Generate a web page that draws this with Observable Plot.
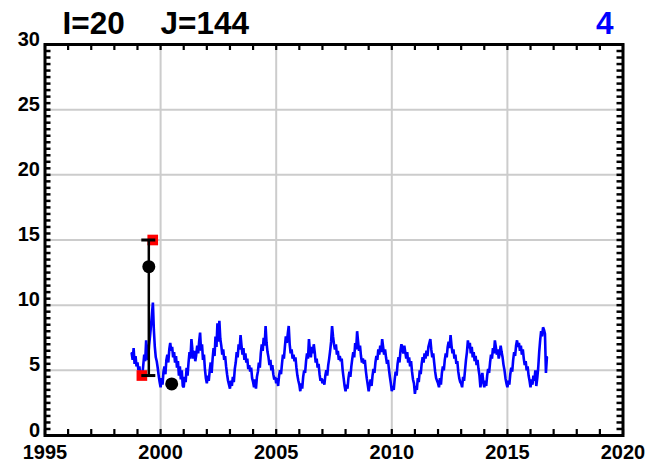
<!DOCTYPE html>
<html>
<head>
<meta charset="utf-8">
<script src="https://cdn.jsdelivr.net/npm/d3@7"></script>
<script src="https://cdn.jsdelivr.net/npm/@observablehq/plot@0.6"></script>
<style>
  html, body { margin: 0; padding: 0; background: #fff; }
  #chart svg { display: block; }
</style>
</head>
<body>
<div id="chart"></div>
<script>
// ---- data ----
const titleI = "I=20";
const titleJ = "J=144";
const titleRight = "4";
const xTickLabels = [1995, 2000, 2005, 2010, 2015, 2020];
const yTickLabels = [0, 5, 10, 15, 20, 25, 30];
const xGrid = [2000, 2005, 2010, 2015];
const yGrid = [5, 10, 15, 20, 25];

// blue series: half-monthly samples starting 1998.75
const blueStart = 1998.75;
const blueStep = 1 / 24;
const blueValues = [
  // 1998 (Oct-Dec)
  6.3, 5.8, 6.7, 5.5, 6.1, 5.3,
  // 1999
  5.6, 5.0, 5.3, 4.4, 4.9, 4.6, 5.4, 6.2, 5.7, 7.3, 6.1, 5.8, 6.9, 7.6, 8.4, 9.3, 10.2, 8.1, 6.8, 6.0, 5.7, 5.2, 4.6, 4.1,
  // 2000
  3.7, 4.4, 3.9, 4.9, 5.3, 4.7, 5.8, 6.2, 5.6, 6.6, 7.1, 6.5, 6.8, 6.0, 6.4, 5.6, 6.1, 5.2, 5.7, 4.6, 5.3, 4.3, 5.0, 3.8,
  // 2001
  3.7, 4.5, 4.1, 5.2, 4.6, 5.6, 6.4, 5.9, 7.4, 6.6, 5.9, 6.5, 5.7, 6.2, 6.9, 6.3, 7.2, 7.9, 6.5, 7.0, 5.8, 6.2, 5.1, 4.4,
  // 2002
  4.0, 4.6, 4.2, 5.0, 5.6, 4.8, 5.9, 6.7, 6.1, 7.6, 6.8, 8.6, 7.2, 8.8, 7.4, 6.9, 6.2, 6.6, 5.8, 6.1, 5.3, 4.7, 4.2, 3.9,
  // 2003
  3.6, 4.2, 3.8, 4.5, 4.1, 5.1, 5.6, 6.4, 6.0, 7.0, 6.6, 7.7, 6.9, 6.2, 6.7, 5.8, 6.3, 5.6, 5.9, 5.1, 5.4, 4.9, 5.2, 4.4,
  // 2004
  4.1, 3.7, 4.3, 3.6, 4.5, 4.9, 5.6, 5.2, 6.3, 7.0, 6.5, 7.5, 6.9, 8.4, 7.1, 6.4, 6.0, 5.4, 5.8, 5.0, 5.4, 4.7, 4.3, 4.5,
  // 2005
  4.0, 4.4, 3.8, 4.6, 5.0, 4.7, 5.5, 6.2, 5.9, 6.8, 7.6, 7.1, 7.8, 8.4, 7.0, 6.3, 6.6, 5.9, 6.2, 5.7, 6.0, 5.2, 4.6, 4.2,
  // 2006
  3.9, 3.4, 4.0, 3.6, 4.5, 5.0, 4.8, 5.7, 6.3, 5.9, 7.4, 6.5, 6.0, 6.8, 6.3, 7.0, 6.4, 5.6, 5.9, 5.2, 5.5, 4.7, 4.2, 4.4,
  // 2007
  4.0, 4.3, 3.9, 4.6, 5.0, 4.6, 5.4, 5.9, 6.5, 7.2, 8.4, 7.6, 7.0, 6.6, 7.0, 6.2, 6.5, 5.8, 6.1, 5.7, 5.9, 5.0, 4.4, 3.8,
  // 2008
  3.4, 3.9, 3.6, 4.4, 4.9, 4.5, 5.3, 5.9, 6.4, 6.0, 7.1, 6.6, 8.0, 7.2, 6.5, 6.9, 6.1, 5.6, 5.9, 5.5, 5.8, 5.0, 4.4, 3.9,
  // 2009
  3.4, 3.9, 4.3, 3.8, 4.6, 5.1, 4.8, 5.6, 6.1, 5.8, 6.6, 6.2, 6.9, 6.4, 7.4, 6.8, 6.2, 6.6, 6.0, 5.5, 5.8, 5.1, 4.5, 4.0,
  // 2010
  3.4, 3.8, 3.5, 4.3, 4.9, 4.6, 5.5, 6.0, 5.6, 6.5, 7.0, 6.7, 6.3, 6.9, 6.4, 5.9, 6.4, 5.6, 6.0, 5.3, 5.7, 4.9, 4.3, 4.0,
  // 2011
  3.2, 3.8, 3.5, 4.4, 4.1, 5.0, 4.7, 5.5, 6.0, 5.6, 6.3, 5.9, 6.5, 6.1, 6.8, 7.1, 7.4, 6.6, 6.0, 6.3, 5.6, 4.9, 4.4, 4.2,
  // 2012
  4.0, 3.7, 4.4, 3.9, 4.8, 5.3, 5.0, 5.8, 6.3, 6.0, 6.8, 7.2, 6.7, 7.7, 6.9, 6.3, 6.6, 5.9, 6.2, 5.5, 5.7, 4.9, 4.4, 4.1,
  // 2013
  4.0, 3.7, 4.5, 4.2, 5.0, 5.8, 6.4, 7.3, 6.7, 7.1, 6.3, 6.8, 6.0, 6.4, 5.7, 6.1, 5.4, 5.8, 5.1, 4.6, 3.7, 4.3, 4.8, 4.1,
  // 2014
  3.7, 4.2, 3.8, 4.6, 5.1, 4.8, 5.6, 6.2, 5.9, 6.7, 6.3, 7.3, 6.8, 6.2, 6.6, 5.9, 6.3, 6.9, 6.4, 6.0, 5.4, 5.0, 4.4, 4.0,
  // 2015
  3.7, 4.2, 3.9, 4.7, 5.2, 4.9, 5.8, 6.4, 6.1, 6.9, 7.3, 6.8, 7.1, 6.5, 6.9, 6.2, 6.6, 5.9, 5.4, 5.7, 5.0, 5.3, 4.6, 4.2,
  // 2016 (to Sep)
  3.7, 4.3, 3.9, 4.6, 4.2, 5.0, 3.8, 4.4, 5.2, 6.4, 7.3, 8.0, 7.6, 8.3, 8.1, 7.8, 4.8, 6.0
];

// red squares
const redX = [1999.19, 1999.66];
const redY = [4.6, 15.0];
// error bar
const errX = [1999.49];
const errLow = [4.6];
const errHigh = [15.0];
// black circles
const dotX = [1999.49, 2000.48];
const dotY = [12.95, 3.96];

// ---- tables built from arrays ----
const blue = blueValues.map((v, i) => ({t: blueStart + i * blueStep, v}));
const red = redX.map((x, i) => ({x, y: redY[i]}));
const err = errX.map((x, i) => ({x, lo: errLow[i], hi: errHigh[i]}));
const caps = err.flatMap(d => [{x: d.x, y: d.lo}, {x: d.x, y: d.hi}]);
const dots = dotX.map((x, i) => ({x, y: dotY[i]}));
const minorX = d3.range(1995, 2020.001, 1);
const minorY = d3.range(0, 30.001, 0.5);

const W = 671, H = 471;
const mL = 44.5, mR = 48.5, mT = 44, mB = 36;
const fw = W - mL - mR, fh = H - mT - mB;
const font = "'Liberation Sans', Arial, sans-serif";

const chart = Plot.plot({
  width: W,
  height: H,
  marginLeft: mL, marginRight: mR, marginTop: mT, marginBottom: mB,
  x: {type: "linear", domain: [1995, 2020], axis: null},
  y: {type: "linear", domain: [0, 30], axis: null},
  style: {fontFamily: font, background: "#fff"},
  marks: [
    Plot.ruleX(xGrid, {x: d => d, stroke: "#cccccc", strokeWidth: 2}),
    Plot.ruleY(yGrid, {y: d => d, stroke: "#cccccc", strokeWidth: 2}),
    Plot.line(blue, {x: "t", y: "v", stroke: "#0000ff", strokeWidth: 2.6, strokeLinejoin: "miter"}),
    Plot.dot(red, {x: "x", y: "y", symbol: "square", r: 6, fill: "#ff0000", stroke: "none"}),
    Plot.ruleX(err, {x: "x", y1: "lo", y2: "hi", stroke: "#000", strokeWidth: 2.5}),
    Plot.ruleY(caps, {y: "y", x1: "x", x2: "x", insetLeft: -7, insetRight: -7, stroke: "#000", strokeWidth: 3}),
    Plot.dot(dots, {x: "x", y: "y", r: 6.5, fill: "#000", stroke: "none"}),
    // minor ticks, inward
    Plot.ruleX(minorX, {x: d => d, stroke: "#000", strokeWidth: 2.2, insetTop: fh - 6}),
    Plot.ruleX(minorX, {x: d => d, stroke: "#000", strokeWidth: 2.2, insetBottom: fh - 6}),
    Plot.ruleY(minorY, {y: d => d, stroke: "#000", strokeWidth: 2.5, insetRight: fw - 6}),
    Plot.ruleY(minorY, {y: d => d, stroke: "#000", strokeWidth: 2.5, insetLeft: fw - 6}),
    Plot.frame({stroke: "#000", strokeWidth: 3}),
    // tick labels
    Plot.text(xTickLabels, {x: d => d, text: d => String(d), frameAnchor: "bottom", lineAnchor: "top", dy: 9,
      fontSize: 20, fontWeight: "bold", fill: "#000"}),
    Plot.text(yTickLabels, {y: d => d, text: d => String(d), frameAnchor: "left", textAnchor: "end", lineAnchor: "bottom", dx: -5, dy: 1,
      fontSize: 20, fontWeight: "bold", fill: "#000"}),
    // titles
    Plot.text([titleI], {text: d => d, frameAnchor: "top-left", textAnchor: "start", lineAnchor: "bottom",
      dx: 17.5, dy: -11, fontSize: 31.5, fontWeight: "bold", fill: "#000"}),
    Plot.text([titleJ], {text: d => d, frameAnchor: "top-left", textAnchor: "start", lineAnchor: "bottom",
      dx: 115.5, dy: -11, fontSize: 31.5, fontWeight: "bold", fill: "#000"}),
    Plot.text([titleRight], {text: d => d, frameAnchor: "top-right", textAnchor: "end", lineAnchor: "bottom",
      dx: -9.5, dy: -11, fontSize: 31.5, fontWeight: "bold", fill: "#0000ff"})
  ]
});
document.getElementById("chart").appendChild(chart);
</script>
</body>
</html>
